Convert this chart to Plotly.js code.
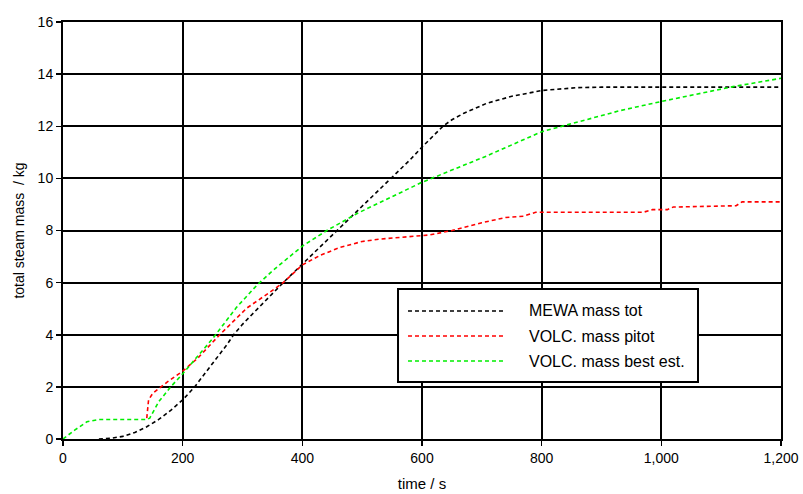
<!DOCTYPE html>
<html><head><meta charset="utf-8">
<script src="https://cdn.plot.ly/plotly-3.0.1.min.js"></script>
<style>html,body{margin:0;padding:0;background:#fff}#chart{width:803px;height:494px}</style>
</head><body><div id="chart"></div>
<script>
const seriesNames = ["MEWA mass tot", "VOLC. mass pitot", "VOLC. mass best est."];
const mewaT = [60, 80, 100, 120, 140, 160, 180, 200, 220, 250, 275, 285, 300, 321, 350, 368, 400, 463, 493, 541, 580, 600, 620, 635, 650, 670, 708, 750, 800, 858, 900, 1000, 1100, 1200];
const mewaM = [0, 0.03, 0.1, 0.25, 0.47, 0.75, 1.1, 1.5, 2.0, 2.9, 3.65, 4.0, 4.4, 4.9, 5.6, 6.0, 6.71, 8.1, 8.77, 9.84, 10.71, 11.2, 11.65, 12.0, 12.25, 12.5, 12.88, 13.15, 13.37, 13.48, 13.5, 13.5, 13.5, 13.5];
const pitotT = [140, 143, 150, 175, 200, 225, 262, 307, 350, 368, 400, 430, 463, 500, 530, 613, 650, 700, 740, 770, 790, 970, 985, 1010, 1020, 1125, 1135, 1200];
const pitotM = [0.8, 1.5, 1.75, 2.2, 2.6, 3.1, 4.0, 5.02, 5.7, 6.0, 6.68, 7.05, 7.35, 7.58, 7.67, 7.83, 8.0, 8.3, 8.5, 8.55, 8.7, 8.7, 8.8, 8.8, 8.9, 8.95, 9.1, 9.1];
const bestT = [0, 20, 40, 60, 100, 140, 145, 160, 180, 200, 250, 290, 324, 350, 400, 441, 493, 550, 600, 708, 800, 931, 1000, 1120, 1200];
const bestM = [0, 0.35, 0.66, 0.75, 0.75, 0.75, 0.8, 1.43, 2.0, 2.5, 3.85, 5.05, 5.9, 6.45, 7.4, 8.0, 8.67, 9.3, 9.85, 10.86, 11.79, 12.6, 12.95, 13.52, 13.84];
const colors = ["#000000", "#ff0000", "#00ee00"];

const dash = "4px,3px";
const xs = [mewaT, pitotT, bestT], ys = [mewaM, pitotM, bestM];
const traces = xs.map((x, i) => ({
  x: x, y: ys[i], type: "scatter", mode: "lines", name: seriesNames[i],
  line: {color: colors[i], width: 1.6, dash: dash}, showlegend: false
}));

const FONT = "Liberation Sans, Arial, sans-serif";
// custom legend (long sample lines)
const rowY = [0.307, 0.247, 0.187];
const shapes = [{type: "rect", xref: "paper", yref: "paper", x0: 0.4666, x1: 0.8844, y0: 0.1367, y1: 0.3597,
  line: {color: "#000", width: 2}, fillcolor: "#fff", layer: "above"}];
const annotations = [];
seriesNames.forEach((n, i) => {
  shapes.push({type: "line", xref: "paper", yref: "paper", x0: 0.4805, x1: 0.6156, y0: rowY[i], y1: rowY[i],
    line: {color: colors[i], width: 1.6, dash: dash}, layer: "above"});
  annotations.push({xref: "paper", yref: "paper", x: 0.6462, y: rowY[i], xanchor: "left", yanchor: "middle",
    text: n, showarrow: false, font: {family: FONT, size: 16, color: "#000"}});
});

const axisCommon = {
  showline: true, linecolor: "#000", linewidth: 2, mirror: true,
  showgrid: true, gridcolor: "#000", gridwidth: 2, zeroline: false,
  ticks: "outside", ticklen: 5, tickwidth: 1.5, tickcolor: "#000",
  tickfont: {family: FONT, size: 14, color: "#000"}
};
const layout = {
  width: 803, height: 494,
  margin: {l: 63, r: 22, t: 22, b: 55},
  paper_bgcolor: "#fff", plot_bgcolor: "#fff",
  xaxis: Object.assign({}, axisCommon, {range: [0, 1200], dtick: 200, tick0: 0, tickformat: ",d",
    title: {text: "time / s", standoff: 14, font: {family: FONT, size: 15, color: "#000"}}}),
  yaxis: Object.assign({}, axisCommon, {range: [0, 16], dtick: 2, tick0: 0,
    title: {text: "total steam mass  / kg", standoff: 10, font: {family: FONT, size: 14, color: "#000"}}}),
  shapes: shapes, annotations: annotations, showlegend: false
};
Plotly.newPlot("chart", traces, layout, {staticPlot: true, displayModeBar: false});
</script></body></html>
